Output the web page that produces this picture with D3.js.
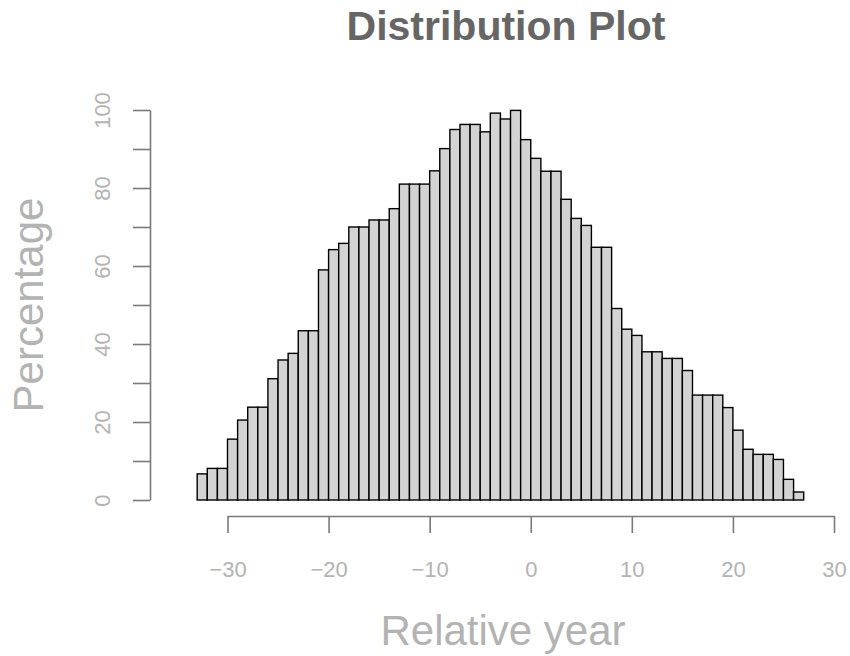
<!DOCTYPE html>
<html>
<head>
<meta charset="utf-8">
<script src="https://cdn.jsdelivr.net/npm/d3@7"></script>
<style>
  body { margin: 0; background: #fff; }
  svg { display: block; font-family: "Liberation Sans", Arial, Helvetica, sans-serif; }
</style>
</head>
<body>
<svg id="chart" width="850" height="656"></svg>
<script>
// Histogram bins: left edges (width 1 year)
const binStarts = [-33,-32,-31,-30,-29,-28,-27,-26,-25,-24,-23,-22,-21,-20,-19,-18,-17,-16,-15,-14,
                   -13,-12,-11,-10,-9,-8,-7,-6,-5,-4,-3,-2,-1,0,1,2,3,4,5,6,
                   7,8,9,10,11,12,13,14,15,16,17,18,19,20,21,22,23,24,25,26];
const percentages = [6.7,8.1,8.1,15.6,20.5,23.8,23.8,31.1,35.9,37.6,43.4,43.4,59.0,64.2,65.8,70.0,70.0,71.8,71.8,74.7,
                     81.0,81.0,81.0,84.4,90.1,95.0,96.3,96.3,94.4,99.2,97.7,99.9,92.4,87.6,84.3,84.3,77.1,72.2,70.4,64.8,
                     64.8,49.1,43.8,42.2,38.0,38.0,36.3,36.3,33.2,26.9,26.9,26.9,23.7,17.9,13.0,11.7,11.7,10.4,5.3,2.05];
const xTicks = [-30,-20,-10,0,10,20,30];
const yTicks = [0,10,20,30,40,50,60,70,80,90,100];
const yLabelTicks = [0,20,40,60,80,100];

const svg = d3.select("#chart");
const x = d3.scaleLinear().domain([-30, 30]).range([227.5, 834]);
const y = d3.scaleLinear().domain([0, 100]).range([500, 110]);
const axisColor = "#7a7a7a";
const labelColor = "#b3b3b3";

// Bars
svg.append("g").selectAll("rect")
  .data(binStarts.map((s, i) => ({s, v: percentages[i]})))
  .join("rect")
  .attr("x", d => x(d.s))
  .attr("width", d => x(d.s + 1) - x(d.s))
  .attr("y", d => y(d.v))
  .attr("height", d => y(0) - y(d.v))
  .attr("fill", "#d3d3d3")
  .attr("stroke", "#000")
  .attr("stroke-width", 1.4);

// X axis
const xAxis = svg.append("g")
  .attr("transform", "translate(0,516)")
  .call(d3.axisBottom(x).tickValues(xTicks).tickSize(17).tickSizeOuter(0));
xAxis.select(".domain").attr("stroke", axisColor).attr("stroke-width", 1.6);
xAxis.selectAll(".tick line").attr("stroke", axisColor).attr("stroke-width", 1.6);
xAxis.selectAll(".tick text")
  .attr("y", 61).attr("dy", 0)
  .attr("fill", labelColor)
  .style("font-size", "22px")
  .style("font-family", "'Liberation Sans', Arial, sans-serif");

// Y axis
const yAxis = svg.append("g")
  .attr("transform", "translate(150,0)")
  .call(d3.axisLeft(y).tickValues(yTicks).tickSize(17).tickSizeOuter(0)
    .tickFormat(d => yLabelTicks.includes(d) ? d3.format("d")(d) : ""));
yAxis.select(".domain").attr("stroke", axisColor).attr("stroke-width", 1.6);
yAxis.selectAll(".tick line").attr("stroke", axisColor).attr("stroke-width", 1.6);
yAxis.selectAll(".tick text")
  .attr("x", 0).attr("dy", 0)
  .attr("transform", "translate(-40,0) rotate(-90)")
  .attr("text-anchor", "middle")
  .attr("fill", labelColor)
  .style("font-size", "22px")
  .style("font-family", "'Liberation Sans', Arial, sans-serif");

// Title
svg.append("text")
  .attr("x", 506).attr("y", 40)
  .attr("text-anchor", "middle")
  .attr("fill", "#666666")
  .style("font-size", "41px")
  .style("font-weight", "bold")
  .text("Distribution Plot");

// Axis titles
svg.append("text")
  .attr("x", 503).attr("y", 645)
  .attr("text-anchor", "middle")
  .attr("fill", labelColor)
  .style("font-size", "42px")
  .text("Relative year");

svg.append("text")
  .attr("transform", "translate(43,305) rotate(-90)")
  .attr("text-anchor", "middle")
  .attr("fill", labelColor)
  .style("font-size", "42px")
  .text("Percentage");
</script>
</body>
</html>
